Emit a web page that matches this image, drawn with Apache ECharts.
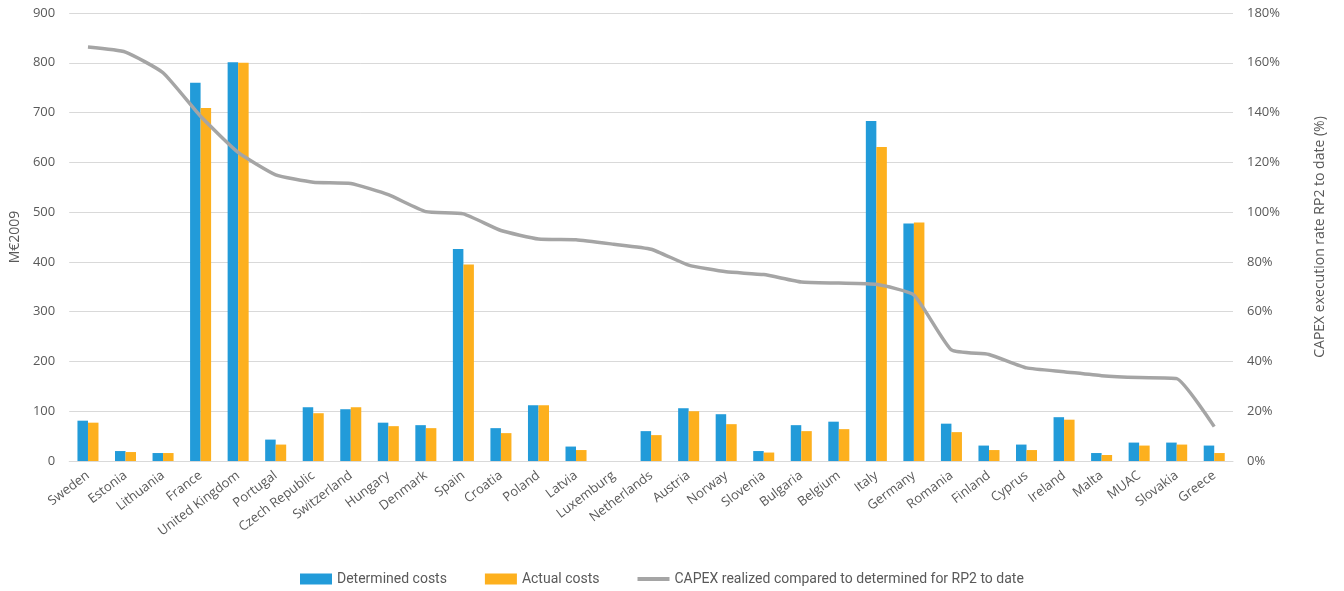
<!DOCTYPE html>
<html>
<head>
<meta charset="utf-8">
<script src="https://cdn.jsdelivr.net/npm/echarts@6/dist/echarts.min.js"></script>
<style>
  html, body { margin: 0; padding: 0; background: #fff; }
  #chart { width: 1344px; height: 591px; }
</style>
</head>
<body>
<div id="chart"></div>
<script>
// Countries / ANSPs, ordered by CAPEX execution rate
const categories = [
  'Sweden', 'Estonia', 'Lithuania', 'France', 'United Kingdom', 'Portugal',
  'Czech Republic', 'Switzerland', 'Hungary', 'Denmark', 'Spain', 'Croatia',
  'Poland', 'Latvia', 'Luxemburg', 'Netherlands', 'Austria', 'Norway',
  'Slovenia', 'Bulgaria', 'Belgium', 'Italy', 'Germany', 'Romania', 'Finland',
  'Cyprus', 'Ireland', 'Malta', 'MUAC', 'Slovakia', 'Greece'
];

// Determined costs, M€2009
const determinedCosts = [
  81, 20, 16, 760, 801, 43, 108, 104, 77, 72, 426, 66,
  112, 29, null, 60, 106, 94, 20, 72, 79, 683, 477, 75, 31,
  33, 88, 16, 37, 37, 31
];

// Actual costs, M€2009
const actualCosts = [
  77, 18, 16, 709, 800, 33, 96, 108, 70, 66, 395, 56,
  112, 22, null, 52, 100, 74, 17, 60, 64, 631, 479, 58, 22,
  22, 83, 12, 31, 33, 16
];

// CAPEX realized compared to determined for RP2 to date, %
const capexRate = [
  166.3, 164.3, 156, 138.5, 124, 115, 112, 111.5, 107, 100.2, 99.3, 92.6,
  89.2, 88.9, 87.1, 85.1, 78.7, 76, 74.9, 71.9, 71.5, 71, 66.7, 44.6, 42.8,
  37.4, 35.9, 34.3, 33.5, 33.1, 13.8
];

const leftTicks = { min: 0, max: 900, interval: 100 };
const rightTicks = { min: 0, max: 180, interval: 20 };

const textColor = '#595959';
const gridColor = '#d9d9d9';
const font = '"Open Sans", "Noto Sans", sans-serif';
const legendFont = 'Roboto, "Liberation Sans", sans-serif';

const chart = echarts.init(document.getElementById('chart'));
chart.setOption({
  animation: false,
  textStyle: { fontFamily: font },
  grid: { left: 67, right: 111, top: 13, bottom: 130, containLabel: false },
  legend: {
    left: 295,
    top: 567,
    itemGap: 38,
    itemWidth: 32,
    itemHeight: 11,
    textStyle: { color: textColor, fontSize: 14, fontFamily: legendFont },
    data: [
      { name: 'Determined costs', icon: 'rect' },
      { name: 'Actual costs', icon: 'rect' },
      {
        name: 'CAPEX realized compared to determined for RP2 to date',
        icon: 'path://M0,0 L32,0 L32,4 L0,4 Z',
        itemStyle: { color: '#a5a5a5' }
      }
    ]
  },
  xAxis: {
    type: 'category',
    data: categories,
    axisTick: { show: false },
    axisLine: { lineStyle: { color: gridColor, width: 1 } },
    axisLabel: {
      color: textColor,
      fontFamily: font,
      fontSize: 13,
      rotate: 37,
      interval: 0,
      margin: 13
    }
  },
  yAxis: [
    {
      type: 'value',
      min: leftTicks.min,
      max: leftTicks.max,
      interval: leftTicks.interval,
      name: 'M€2009',
      nameLocation: 'middle',
      nameGap: 46,
      nameTextStyle: { color: textColor, fontSize: 14, fontFamily: font },
      axisLine: { show: false },
      axisTick: { show: false },
      axisLabel: { color: textColor, fontSize: 13, fontFamily: font, margin: 14 },
      splitLine: { lineStyle: { color: gridColor, width: 1 } }
    },
    {
      type: 'value',
      min: rightTicks.min,
      max: rightTicks.max,
      interval: rightTicks.interval,
      name: 'CAPEX execution rate RP2 to date (%)',
      nameLocation: 'middle',
      nameGap: 80,
      nameRotate: 90,
      nameTextStyle: { color: textColor, fontSize: 14, fontFamily: font },
      axisLine: { show: false },
      axisTick: { show: false },
      axisLabel: { color: textColor, fontSize: 13, fontFamily: font, margin: 14, formatter: '{value}%' },
      splitLine: { show: false }
    }
  ],
  series: [
    {
      name: 'Determined costs',
      type: 'bar',
      data: determinedCosts,
      itemStyle: { color: '#229bd9' },
      barGap: '0%',
      barCategoryGap: '44%'
    },
    {
      name: 'Actual costs',
      type: 'bar',
      data: actualCosts,
      itemStyle: { color: '#fdb01e' }
    },
    {
      name: 'CAPEX realized compared to determined for RP2 to date',
      type: 'line',
      yAxisIndex: 1,
      data: capexRate,
      symbol: 'none',
      smooth: 0.15,
      lineStyle: { color: '#a5a5a5', width: 3.5 },
      itemStyle: { color: '#a5a5a5' },
      z: 5
    }
  ]
});
</script>
</body>
</html>
